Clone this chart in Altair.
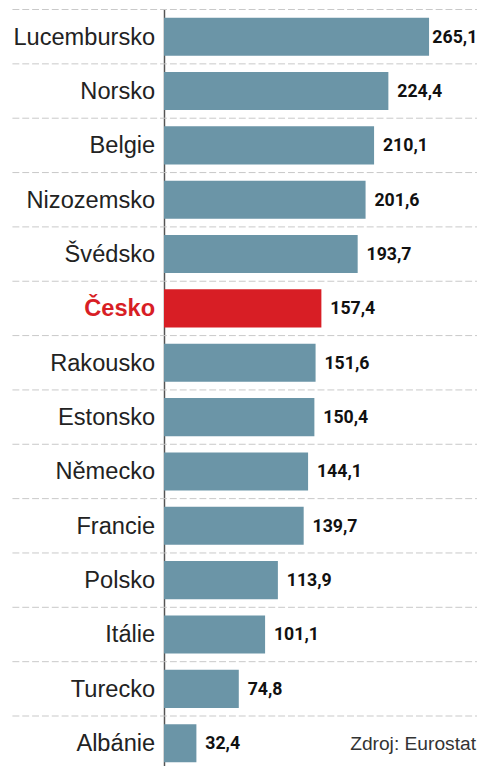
import altair as alt
import pandas as pd

countries = ["Lucembursko", "Norsko", "Belgie", "Nizozemsko", "Švédsko", "Česko",
             "Rakousko", "Estonsko", "Německo", "Francie", "Polsko", "Itálie",
             "Turecko", "Albánie"]
values = [265.1, 224.4, 210.1, 201.6, 193.7, 157.4, 151.6, 150.4, 144.1, 139.7,
          113.9, 101.1, 74.8, 32.4]
highlight = "Česko"
source_text = "Zdroj: Eurostat"

df = pd.DataFrame({
    "country": countries,
    "value": values,
    "label": [f"{v:.1f}".replace(".", ",") for v in values],
    "hl": [c == highlight for c in countries],
})

BLUE = "#6b95a7"
RED = "#d81e25"
DARK = "#222222"

yscale = alt.Scale(type="band", paddingInner=0, paddingOuter=0)
y_axis = alt.Axis(labels=False, ticks=False, title=None, grid=False,
                  domainColor="#555555", domainWidth=1.5)
y_enc = alt.Y("country:N", sort=countries, axis=y_axis, scale=yscale)
y_plain = alt.Y("country:N", sort=countries, scale=yscale)
xscale = alt.Scale(domain=[0, 316], nice=False, zero=True)
x_enc = alt.X("value:Q", axis=None, scale=xscale)

base = alt.Chart(df)

seps = base.mark_rule(color="#c8c8c8", strokeDash=[7, 3], strokeWidth=1).encode(
    y=alt.Y("country:N", sort=countries, bandPosition=0, scale=yscale),
    x=alt.value(-154), x2=alt.value(321),
)

bars = base.mark_bar(size=38.7).encode(
    y=y_enc,
    x=x_enc,
    color=alt.condition("datum.hl", alt.value(RED), alt.value(BLUE)),
)

# value labels sit just right of the bar, kept inside the plot for the longest bar
vals = base.transform_calculate(lx="min(datum.value, 259.5)").mark_text(
    align="left", baseline="middle", dx=9, dy=1,
    font="Roboto", fontWeight="bold", fontSize=18, color="#111111").encode(
    y=y_plain,
    x=alt.X("lx:Q", axis=None, scale=xscale),
    text="label:N",
)

names = base.transform_filter("!datum.hl").mark_text(
    align="right", baseline="middle", dy=1,
    font="Liberation Sans", fontSize=24, color=DARK).encode(
    y=y_plain,
    x=alt.value(-9),
    text="country:N",
)

names_hl = base.transform_filter("datum.hl").mark_text(
    align="right", baseline="middle", dy=1,
    font="Liberation Sans", fontSize=24, fontWeight="bold", color=RED).encode(
    y=y_plain,
    x=alt.value(-9),
    text="country:N",
)

src = alt.Chart(pd.DataFrame({"t": [source_text]})).mark_text(
    align="right", baseline="middle", font="Liberation Sans",
    fontSize=19.5, color="#333333").encode(
    x=alt.value(317), y=alt.value(746), text="t:N")

chart = alt.layer(seps, bars, vals, names, names_hl, src).properties(
    width=321, height=773,
    padding={"left": 158.5, "top": -4.6, "right": -3, "bottom": 0},
    autosize=alt.AutoSizeParams(type="none"),
).configure_view(stroke=None)

chart.save("out.html", embed_options={"renderer": "svg", "actions": False})
